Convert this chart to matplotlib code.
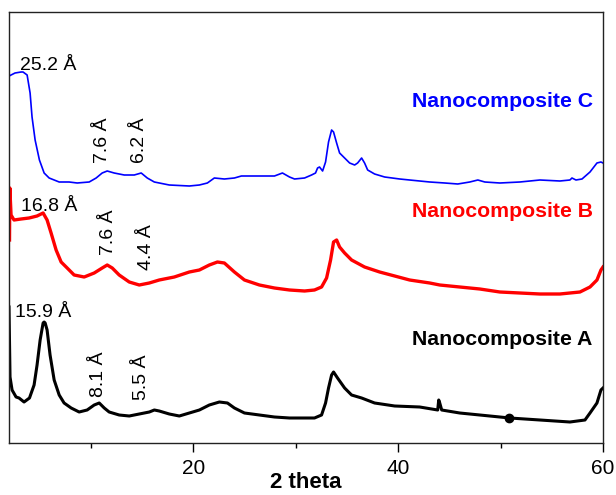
import matplotlib
matplotlib.use("Agg")
import matplotlib.pyplot as plt
from matplotlib.ticker import FixedLocator, NullFormatter

plt.rcParams['font.family'] = ['Liberation Sans', 'DejaVu Sans']

# XRD patterns (2 theta, intensity a.u. incl. offset)
c_theta = [2.00, 2.02, 2.20, 2.59, 3.18, 3.37, 3.77, 4.06, 4.25, 4.55, 4.97, 5.43,
           5.92, 6.90, 7.87, 8.66, 9.83, 10.51, 11.10, 11.59, 12.27, 13.25, 14.23,
           14.91, 15.50, 16.19, 17.65, 19.61, 20.59, 21.37, 22.05, 23.03, 24.01,
           24.69, 26.45, 27.92, 28.70, 29.39, 29.88, 30.86, 31.54, 31.93, 32.13,
           32.32, 32.62, 32.91, 33.20, 33.50, 33.69, 33.99, 34.28, 34.77, 35.26,
           35.75, 36.04, 36.43, 36.72, 37.02, 37.70, 38.68, 40.15, 41.12, 43.08,
           44.55, 45.82, 46.99, 47.78, 48.46, 49.93, 51.88, 53.84, 55.79, 56.77,
           56.97, 57.36, 57.95, 58.73, 59.41, 59.80, 60.00]
c_int = [388, 367, 368, 370, 371, 371, 368, 350, 326, 303, 283, 270,
         265, 261, 261, 260, 261, 265, 270, 272, 270, 268, 268,
         270, 265, 261, 258, 257, 258, 260, 265, 264, 265,
         267, 267, 267, 270, 266, 264, 265, 268, 270, 275,
         276, 272, 281, 301, 313, 311, 300, 290, 285, 280,
         278, 280, 285, 280, 273, 269, 266, 264, 263, 261,
         260, 259, 261, 263, 261, 260, 261, 263, 262, 263,
         265, 263, 264, 271, 280, 281, 280]

b_theta = [2.05, 2.08, 2.20, 2.49, 3.18, 3.96, 4.74, 5.33, 5.72, 6.11, 6.60, 7.09,
           7.68, 8.36, 9.34, 10.32, 11.10, 11.59, 12.08, 12.76, 13.74, 14.72,
           15.70, 16.67, 18.14, 19.61, 20.59, 21.56, 22.35, 23.03, 24.01, 24.99,
           26.45, 27.92, 29.39, 30.86, 31.83, 32.52, 33.01, 33.40, 33.69, 33.99,
           34.28, 34.77, 35.45, 36.72, 38.19, 39.66, 41.12, 43.08, 44.06, 46.01,
           47.97, 49.93, 51.88, 53.84, 55.79, 57.75, 58.73, 59.41, 59.80, 60.00]
b_int = [203, 255, 228, 223, 224, 225, 227, 230, 223, 210, 193, 181,
         175, 168, 166, 170, 175, 178, 175, 168, 161, 158,
         160, 163, 166, 171, 173, 178, 181, 180, 171, 163,
         158, 155, 153, 152, 153, 156, 165, 183, 201, 203,
         196, 190, 183, 176, 171, 167, 163, 160, 158, 156,
         154, 151, 150, 149, 149, 151, 156, 163, 173, 176]

a_theta = [2.00, 2.10, 2.30, 2.69, 2.98, 3.47, 4.00, 4.45, 4.74, 5.04, 5.33, 5.43,
           5.53, 5.72, 6.01, 6.41, 6.90, 7.38, 8.07, 8.85, 9.63, 10.32, 10.81,
           11.30, 11.78, 12.76, 13.74, 14.72, 15.70, 16.19, 16.67, 17.65, 18.63,
           19.61, 20.59, 21.56, 22.54, 23.33, 24.01, 24.99, 26.45, 27.92, 29.39,
           31.83, 32.52, 32.91, 33.20, 33.50, 33.69, 34.08, 34.77, 35.45, 36.43,
           37.70, 39.66, 42.10, 43.86, 43.96, 44.06, 44.25, 46.01, 47.97, 50.90,
           53.84, 56.77, 58.24, 58.73, 59.41, 59.80, 60.00]
a_int = [136, 66, 53, 46, 45, 41, 45, 58, 78, 103, 120, 121,
         120, 113, 88, 63, 48, 40, 35, 31, 33, 38, 40,
         35, 31, 28, 27, 29, 31, 33, 32, 29, 27,
         30, 33, 38, 41, 40, 35, 30, 28, 26, 25,
         25, 28, 40, 55, 68, 71, 65, 55, 48, 45,
         40, 37, 36, 33, 43, 40, 33, 30, 28, 25,
         23, 21, 23, 30, 40, 53, 55]

# stray marker on pattern A
dot_theta = [50.81]
dot_int = [25]

fig = plt.figure(figsize=(6.16, 4.95), dpi=100)
ax = fig.add_axes([9 / 616, 52 / 495, 594 / 616, 431 / 495])

ax.plot(c_theta, c_int, color='#0000ff', lw=1.2)
ax.plot(b_theta, b_int, color='#ff0000', lw=2.4, solid_joinstyle='round')
ax.plot(a_theta, a_int, color='black', lw=2.2, solid_joinstyle='round')
ax.plot(dot_theta, dot_int, 'o', color='black', ms=6)

ax.set_xlim(2, 60)
ax.set_ylim(0, 431)

# peak annotations
ann = dict(fontsize=14, color='black')
ax.text(3.08, 373, '25.2 Å', ha='left', va='baseline', **ann)
ax.text(11.1, 280, '7.6 Å', rotation=90, ha='center', va='bottom', **ann)
ax.text(14.75, 280, '6.2 Å', rotation=90, ha='center', va='bottom', **ann)
ax.text(3.2, 232, '16.8 Å', ha='left', va='baseline', **ann)
ax.text(11.7, 188, '7.6 Å', rotation=90, ha='center', va='bottom', **ann)
ax.text(15.4, 173, '4.4 Å', rotation=90, ha='center', va='bottom', **ann)
ax.text(2.55, 126, '15.9 Å', ha='left', va='baseline', **ann)
ax.text(10.75, 46, '8.1 Å', rotation=90, ha='center', va='bottom', **ann)
ax.text(14.9, 43, '5.5 Å', rotation=90, ha='center', va='bottom', **ann)

# series labels
lab = dict(fontsize=15.3, fontweight='bold', ha='right', va='baseline')
ax.text(59.0, 336, 'Nanocomposite C', color='#0000ff', **lab)
ax.text(59.0, 226, 'Nanocomposite B', color='#ff0000', **lab)
ax.text(59.0, 98, 'Nanocomposite A', color='black', **lab)

ax.xaxis.set_major_locator(FixedLocator([20, 40, 60]))
ax.xaxis.set_minor_locator(FixedLocator([10, 30, 50]))
ax.xaxis.set_minor_formatter(NullFormatter())
ax.tick_params(axis='x', which='major', direction='out', length=6.5, width=1, labelsize=15, pad=5)
ax.tick_params(axis='x', which='minor', direction='out', length=3.5, width=1)
ax.set_yticks([])
for s in ax.spines.values():
    s.set_linewidth(1.0)
    s.set_color('#222222')

ax.set_xlabel('2 theta', fontsize=16, fontweight='bold')
ax.xaxis.set_label_coords(0.5, -0.068)

fig.savefig('out.png', dpi=100)
